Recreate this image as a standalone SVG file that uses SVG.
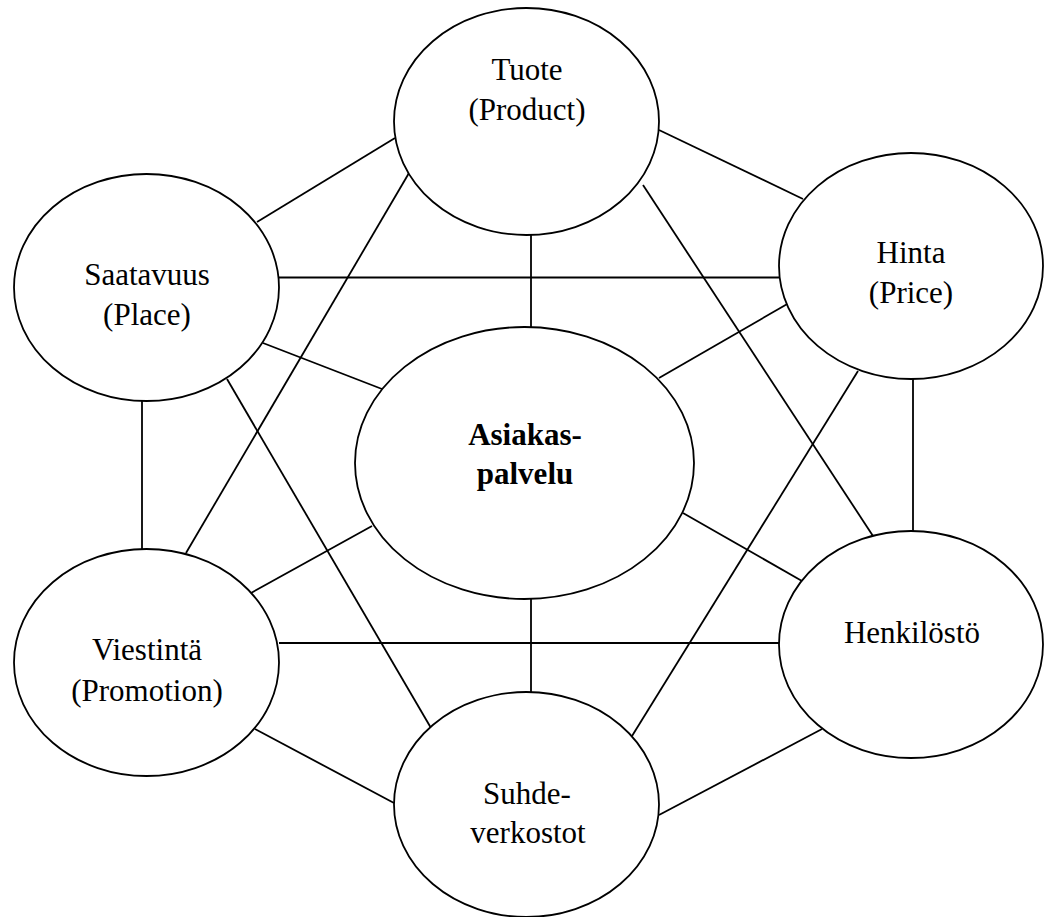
<svg xmlns="http://www.w3.org/2000/svg" width="1044" height="917" viewBox="0 0 1044 917">
<style>
.bg{fill:#ffffff}
.c line{stroke:#000;stroke-width:1.8;fill:none}
.n ellipse{fill:#fff;stroke:#000;stroke-width:1.8}
.t{font-family:"Liberation Serif","Times New Roman",serif;font-size:31px;fill:#000;text-anchor:middle}
.b{font-weight:bold}
</style>
<rect class="bg" x="0" y="0" width="1044" height="917"/>
<g id="connectors" class="c">
<line x1="531" y1="235" x2="531" y2="327"/>
<line x1="279" y1="277.5" x2="779" y2="277.5"/>
<line x1="142" y1="401" x2="142" y2="552"/>
<line x1="913" y1="379" x2="913" y2="531"/>
<line x1="279" y1="643" x2="779" y2="643"/>
<line x1="531" y1="599" x2="531" y2="692"/>
<line x1="257" y1="222" x2="395" y2="138"/>
<line x1="659" y1="130" x2="803" y2="199"/>
<line x1="409" y1="173" x2="186" y2="553"/>
<line x1="643" y1="185" x2="873" y2="536"/>
<line x1="263" y1="343" x2="382" y2="389"/>
<line x1="227" y1="379" x2="431" y2="728"/>
<line x1="789" y1="303" x2="659" y2="378"/>
<line x1="858" y1="371" x2="632" y2="736"/>
<line x1="251" y1="593" x2="372" y2="526"/>
<line x1="683" y1="513" x2="802" y2="581"/>
<line x1="255" y1="729" x2="394" y2="803"/>
<line x1="659" y1="815" x2="822" y2="729"/>
</g>
<g id="tuote" class="n">
<ellipse cx="526.5" cy="121.5" rx="132.5" ry="113.5"/>
<text class="t" x="527" y="80">Tuote</text>
<text class="t" x="527" y="120">(Product)</text>
</g>
<g id="saatavuus" class="n">
<ellipse cx="146.5" cy="287.5" rx="132.5" ry="113.5"/>
<text class="t" x="147" y="285">Saatavuus</text>
<text class="t" x="147" y="325">(Place)</text>
</g>
<g id="hinta" class="n">
<ellipse cx="911" cy="266" rx="132" ry="113"/>
<text class="t" x="911" y="263">Hinta</text>
<text class="t" x="911" y="303">(Price)</text>
</g>
<g id="asiakaspalvelu" class="n">
<ellipse cx="524.5" cy="463" rx="169.5" ry="136"/>
<text class="t b" x="525" y="445">Asiakas-</text>
<text class="t b" x="525" y="484">palvelu</text>
</g>
<g id="viestinta" class="n">
<ellipse cx="146.5" cy="662.5" rx="132.5" ry="113.5"/>
<text class="t" x="147" y="660">Viestintä</text>
<text class="t" x="147" y="701">(Promotion)</text>
</g>
<g id="henkilosto" class="n">
<ellipse cx="911" cy="644.5" rx="132" ry="113.5"/>
<text class="t" x="912" y="643">Henkilöstö</text>
</g>
<g id="suhdeverkostot" class="n">
<ellipse cx="526.5" cy="804.5" rx="132.5" ry="112.5"/>
<text class="t" x="527" y="804">Suhde-</text>
<text class="t" x="528" y="843">verkostot</text>
</g>
</svg>
